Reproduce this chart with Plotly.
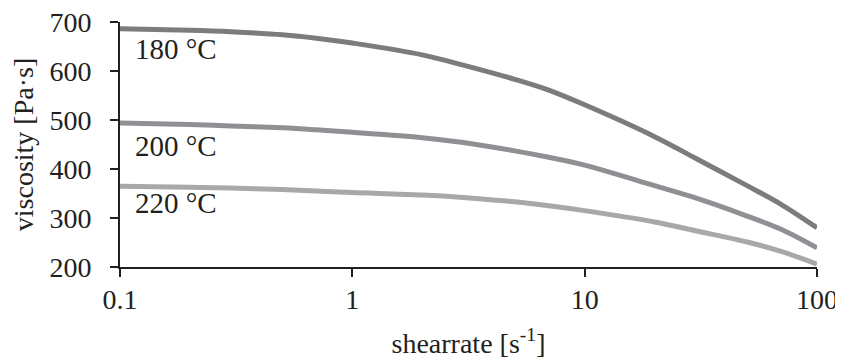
import plotly.graph_objects as go

shear_rate = [0.1, 0.2, 0.3, 0.5, 0.7, 1, 2, 3, 5, 7, 10, 20, 30, 50, 70, 100]
visc_180 = [686, 683, 680, 674, 667, 657, 633, 612, 583, 561, 531, 466, 422, 366, 328, 280]
visc_200 = [494, 491, 488, 484, 480, 475, 464, 454, 437, 424, 408, 366, 341, 304, 277, 239]
visc_220 = [365, 363, 361, 358, 355, 352, 347, 342, 333, 325, 315, 292, 274, 251, 232, 206]
series_names = ["180 °C", "200 °C", "220 °C"]
series_colors = ["#7b7c7e", "#8f9093", "#a7a8aa"]
label_y = [645, 446, 330]
x_ticks = [0.1, 1, 10, 100]
x_tick_text = ["0.1", "1", "10", "100"]
y_ticks = [200, 300, 400, 500, 600, 700]

FONT = "Liberation Serif, Times New Roman, serif"
INK = "#231f20"
fig = go.Figure()
for name, vals, col in zip(series_names, [visc_180, visc_200, visc_220], series_colors):
    fig.add_trace(go.Scatter(x=shear_rate, y=vals, mode="lines", name=name, cliponaxis=False,
                             line=dict(color=col, width=5, shape="spline", smoothing=1.0)))

for name, yv in zip(series_names, label_y):
    fig.add_annotation(x=0.019, xref="paper", y=yv, yref="y", text=name, showarrow=False,
                       xanchor="left", yanchor="middle", font=dict(family=FONT, size=29, color=INK))

axis_common = dict(showline=True, linecolor=INK, linewidth=2, ticks="outside", ticklen=8,
                   tickwidth=2, tickcolor=INK, showgrid=False, zeroline=False, automargin=False,
                   ticklabeloverflow="allow",
                   tickfont=dict(family=FONT, size=28, color=INK))
fig.update_xaxes(type="log", range=[-1, 2], tickvals=x_ticks, ticktext=x_tick_text,
                 ticklabelstandoff=-2,
                 title=dict(text="shearrate [s<sup>-1</sup>]", font=dict(family=FONT, size=28, color=INK), standoff=20),
                 **axis_common)
fig.update_yaxes(range=[200, 700], tickvals=y_ticks, ticklabelstandoff=13,
                 title=dict(text="viscosity [Pa·s]", font=dict(family=FONT, size=28, color=INK), standoff=8),
                 **axis_common)
# the page body adds an 8px margin, so the figure is 8px smaller than the window
fig.update_layout(width=835, height=354, margin=dict(l=112, r=26, t=14, b=95),
                  plot_bgcolor="white", paper_bgcolor="white", showlegend=False)
fig.write_html("out.html")
